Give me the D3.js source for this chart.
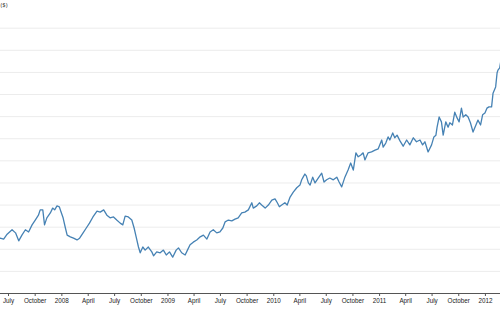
<!DOCTYPE html>
<html>
<head>
<meta charset="utf-8">
<script src="https://cdn.jsdelivr.net/npm/d3@7"></script>
<style>
  body { margin: 0; background: #fff; }
  svg { display: block; font-family: "Open Sans", sans-serif; }
  .grid line { stroke: #ececec; }
  .grid .domain { display: none; }
  .axis text { fill: #222; font-size: 6.3px; }
  .axis line, .axis path { stroke: #555; }
  .price { fill: none; stroke: steelblue; stroke-width: 1.3; stroke-linejoin: round; }
</style>
</head>
<body>
<svg id="chart" width="500" height="313"></svg>
<script>
// Daily close
const dates = [
  "2007-04-23", "2007-05-10", "2007-06-04", "2007-06-16", "2007-06-28", "2007-07-15", "2007-07-27",
  "2007-08-07", "2007-08-18", "2007-08-30", "2007-09-10", "2007-09-22", "2007-10-03", "2007-10-14",
  "2007-10-20", "2007-10-29", "2007-11-04", "2007-11-12", "2007-11-24", "2007-12-02", "2007-12-09",
  "2007-12-17", "2007-12-25", "2007-12-31", "2008-01-07", "2008-01-15", "2008-01-21", "2008-02-01",
  "2008-02-12", "2008-02-24", "2008-03-04", "2008-03-16", "2008-03-27", "2008-04-07", "2008-04-19",
  "2008-05-03", "2008-05-14", "2008-05-26", "2008-06-06", "2008-06-17", "2008-06-29", "2008-07-10",
  "2008-07-22", "2008-07-31", "2008-08-08", "2008-08-19", "2008-08-31", "2008-09-08", "2008-09-15",
  "2008-09-23", "2008-09-29", "2008-10-08", "2008-10-16", "2008-10-27", "2008-11-08", "2008-11-14",
  "2008-11-25", "2008-12-07", "2008-12-18", "2008-12-28", "2009-01-08", "2009-01-19", "2009-01-31",
  "2009-02-08", "2009-02-19", "2009-03-03", "2009-03-11", "2009-03-20", "2009-03-31", "2009-04-12",
  "2009-04-24", "2009-05-05", "2009-05-17", "2009-05-28", "2009-06-08", "2009-06-20", "2009-07-01",
  "2009-07-11", "2009-07-19", "2009-07-30", "2009-08-11", "2009-08-22", "2009-09-02", "2009-09-14",
  "2009-09-25", "2009-10-07", "2009-10-19", "2009-10-24", "2009-11-05", "2009-11-14", "2009-11-22",
  "2009-12-04", "2009-12-15", "2009-12-27", "2010-01-07", "2010-01-15", "2010-01-22", "2010-01-30",
  "2010-02-10", "2010-02-18", "2010-02-28", "2010-03-11", "2010-03-23", "2010-04-03", "2010-04-09",
  "2010-04-14", "2010-04-20", "2010-04-25", "2010-05-02", "2010-05-08", "2010-05-17", "2010-05-25",
  "2010-06-05", "2010-06-17", "2010-06-25", "2010-07-04", "2010-07-15", "2010-07-27", "2010-08-08",
  "2010-08-16", "2010-08-25", "2010-09-05", "2010-09-16", "2010-09-25", "2010-10-04", "2010-10-13",
  "2010-10-21", "2010-10-30", "2010-11-07", "2010-11-13", "2010-11-24", "2010-12-06", "2010-12-18",
  "2010-12-29", "2011-01-10", "2011-01-15", "2011-01-24", "2011-02-01", "2011-02-07", "2011-02-17",
  "2011-02-24", "2011-03-04", "2011-03-14", "2011-03-25", "2011-04-06", "2011-04-17", "2011-04-29",
  "2011-05-10", "2011-05-22", "2011-05-31", "2011-06-08", "2011-06-19", "2011-07-01", "2011-07-09",
  "2011-07-16", "2011-07-20", "2011-07-27", "2011-08-04", "2011-08-10", "2011-08-19", "2011-08-27",
  "2011-09-02", "2011-09-11", "2011-09-19", "2011-09-27", "2011-10-04", "2011-10-12", "2011-10-18",
  "2011-10-27", "2011-11-04", "2011-11-12", "2011-11-21", "2011-12-01", "2011-12-08", "2011-12-17",
  "2011-12-24", "2012-01-01", "2012-01-08", "2012-01-15", "2012-01-24", "2012-01-29", "2012-02-07",
  "2012-02-12", "2012-02-15", "2012-02-21", "2012-03-01", "2012-03-15", "2012-04-09", "2012-04-20",
  "2012-05-01"
];

const closes = [
  110, 118, 124, 122, 133, 143, 136,
  118, 131, 143, 138, 154, 165, 176,
  188, 188, 154, 170, 181, 192, 188,
  197, 195, 183, 170, 147, 131, 127,
  124, 120, 124, 136, 147, 158, 172,
  185, 183, 188, 176, 170, 172, 165,
  158, 154, 174, 172, 165, 147, 127,
  104, 91, 104, 97, 104, 93, 84,
  93, 91, 97, 86, 93, 81, 97,
  102, 91, 86, 97, 109, 115, 120,
  127, 131, 122, 138, 143, 136, 138,
  147, 161, 165, 163, 167, 170, 181,
  183, 188, 204, 192, 197, 204, 199,
  192, 199, 210, 213, 204, 195, 199,
  204, 199, 217, 228, 238, 244, 256,
  262, 269, 265, 249, 244, 262, 249,
  260, 271, 251, 256, 260, 256, 262,
  251, 240, 262, 278, 294, 278, 317,
  308, 312, 317, 301, 317, 319, 323,
  326, 346, 330, 339, 353, 346, 362,
  351, 357, 344, 332, 346, 335, 351,
  342, 346, 335, 342, 319, 335, 353,
  357, 375, 398, 387, 357, 387, 375,
  385, 380, 409, 396, 387, 418, 398,
  403, 398, 385, 364, 380, 391, 380,
  403, 407, 418, 421, 421, 452, 466,
  498, 504, 509, 545, 585, 636, 570,
  582
];

const priceTicks = [0, 50, 100, 150, 200, 250, 300, 350, 400, 450, 500, 550, 600];
const priceMax = 640;
const yLabel = "Price ($)";

const parseDate = d3.timeParse("%Y-%m-%d");
const data = dates.map((d, i) => ({ date: parseDate(d), close: closes[i] }));

function renderPriceChart() {
  const svg = d3.select("#chart");
  const width = 500;
  const height = 313;
  // plot is wider than the frame: y axis sits off the left edge
  const margin = { top: 10, right: -20, bottom: 20, left: -12 };

  const x = d3.scaleTime()
    .domain(d3.extent(data, (d) => d.date))
    .range([margin.left, width - margin.right]);

  const y = d3.scaleLinear()
    .domain([0, priceMax])
    .range([height - margin.bottom, margin.top]);

  svg.append("g")
    .attr("class", "grid")
    .attr("transform", `translate(${margin.left},0)`)
    .call(d3.axisLeft(y).tickValues(priceTicks).tickSize(-(width - margin.left - margin.right)).tickFormat(""));

  svg.append("path")
    .datum(data)
    .attr("class", "price")
    .attr("d", d3.line().x((d) => x(d.date)).y((d) => y(d.close)));

  // only the ticks that fall inside the frame
  const [x0, x1] = x.domain();
  const monthTicks = d3.timeMonth.every(3).range(x0, x1).filter((d) => x(d) >= 0 && x(d) <= width - 8);

  svg.append("g")
    .attr("class", "axis")
    .attr("transform", `translate(0,${height - margin.bottom})`)
    .call(d3.axisBottom(x).tickValues(monthTicks).tickFormat(x.tickFormat()).tickSize(3).tickPadding(3));

  svg.append("text")
    .attr("x", 7.5)
    .attr("y", 7)
    .attr("text-anchor", "end")
    .attr("font-size", 6)
    .attr("fill", "#333")
    .text(yLabel);
}

renderPriceChart();
</script>
</body>
</html>
